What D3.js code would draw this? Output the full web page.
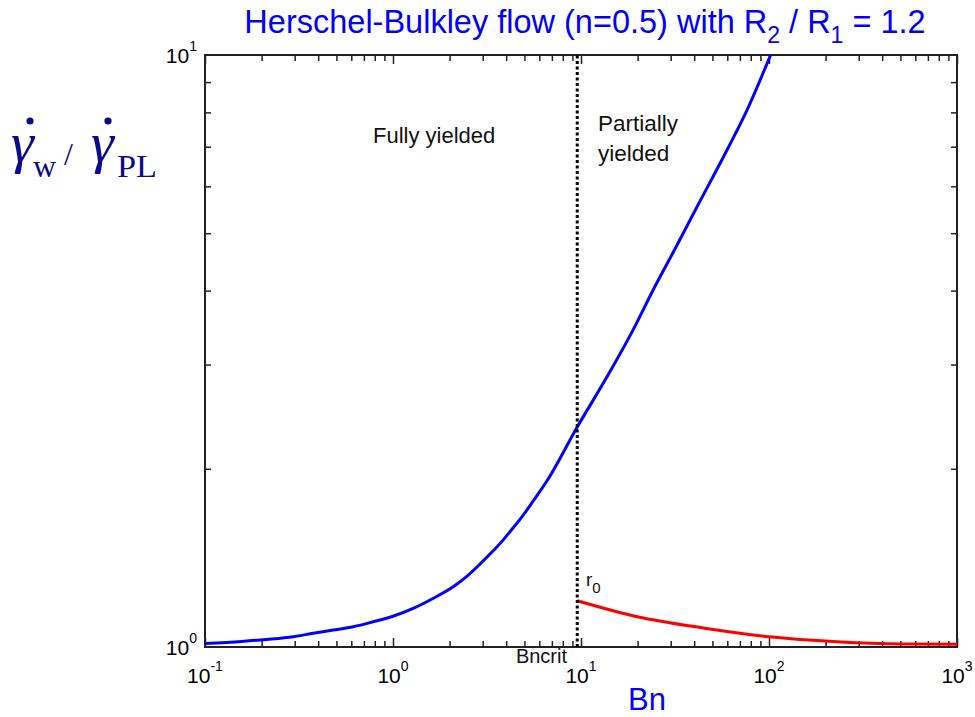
<!DOCTYPE html>
<html><head><meta charset="utf-8">
<script src="https://cdn.jsdelivr.net/npm/d3@7"></script>
<style>body{margin:0;background:#fff}svg{display:block}</style>
</head><body>
<svg id="c" width="975" height="717"></svg>
<script>
// ---- data ----
const bnCrit = 9.55;
const blueBn = [0.1, 0.157, 0.213, 0.295, 0.377, 0.481, 0.615, 0.785, 1.0, 1.28, 1.64, 2.09, 2.47, 2.9, 3.42, 3.86, 4.19, 4.93, 5.57, 6.57, 9.55, 13.75, 18.9, 24.2, 30.8, 41.4, 59.8, 76.4, 102];
const blueY  = [1.014, 1.022, 1.030, 1.041, 1.055, 1.068, 1.082, 1.103, 1.127, 1.162, 1.209, 1.264, 1.316, 1.38, 1.455, 1.517, 1.566, 1.67, 1.765, 1.905, 2.353, 2.86, 3.43, 4.01, 4.63, 5.54, 6.91, 8.07, 10.0];
const redBn  = [9.55, 19.9, 44.6, 100, 230, 516, 1000];
const redY   = [1.197, 1.125, 1.077, 1.041, 1.021, 1.012, 1.011];
const xDecades = [-1, 0, 1, 2, 3];
const yDecades = [0, 1];

const svg = d3.select("#c");
const L = 205, R = 957, T = 55, B = 647;
const x = d3.scaleLog().domain([0.1, 1000]).range([L, R]);
const y = d3.scaleLog().domain([1, 10]).range([B, T]);
const FONT = "Liberation Sans, Arial, sans-serif";

svg.append("clipPath").attr("id", "clip").append("rect")
  .attr("x", L).attr("y", T).attr("width", R - L).attr("height", B - T);

const xMajor = xDecades.map(e => Math.pow(10, e));
const xMinor = [];
for (let e = -1; e < 3; e++) for (let k = 2; k <= 9; k++) xMinor.push(k * Math.pow(10, e));
const yMinor = [2, 3, 4, 5, 6, 7, 8, 9];

function tickAxis(axis, tr) {
  const g = svg.append("g").attr("transform", tr).call(axis);
  g.select(".domain").remove();
  g.selectAll("text").remove();
  g.selectAll("line").attr("stroke", "#222").attr("stroke-width", 1.5);
  return g;
}
tickAxis(d3.axisBottom(x).tickValues(xMinor).tickSize(-6), `translate(0,${B})`);
tickAxis(d3.axisBottom(x).tickValues(xMajor).tickSize(-9), `translate(0,${B})`);
tickAxis(d3.axisTop(x).tickValues(xMinor).tickSize(-6), `translate(0,${T})`);
tickAxis(d3.axisTop(x).tickValues(xMajor).tickSize(-9), `translate(0,${T})`);
tickAxis(d3.axisLeft(y).tickValues(yMinor).tickSize(-6), `translate(${L},0)`);
tickAxis(d3.axisRight(y).tickValues(yMinor).tickSize(-6), `translate(${R},0)`);

svg.append("rect").attr("x", L).attr("y", T).attr("width", R - L).attr("height", B - T)
  .attr("fill", "none").attr("stroke", "#222").attr("stroke-width", 2);

xDecades.forEach(e => {
  const t = svg.append("text").attr("x", x(Math.pow(10, e))).attr("y", 683)
    .attr("text-anchor", "middle").attr("font-family", FONT).attr("font-size", 21).attr("fill", "#000");
  t.append("tspan").text("10");
  t.append("tspan").attr("dy", -12).attr("font-size", 14).text(String(e));
});
yDecades.forEach(e => {
  const t = svg.append("text").attr("x", 197).attr("y", y(Math.pow(10, e)) + 8)
    .attr("text-anchor", "end").attr("font-family", FONT).attr("font-size", 21).attr("fill", "#000");
  t.append("tspan").text("10");
  t.append("tspan").attr("dy", -12).attr("font-size", 14).text(String(e));
});

const line = d3.line().x(d => x(d[0])).y(d => y(d[1])).curve(d3.curveMonotoneX);
const plot = svg.append("g").attr("clip-path", "url(#clip)");
plot.append("path").datum(blueBn.map((b, i) => [b, blueY[i]]))
  .attr("d", line).attr("fill", "none").attr("stroke", "#0000FF").attr("stroke-width", 3);
plot.append("path").datum(redBn.map((b, i) => [b, redY[i]]))
  .attr("d", line).attr("fill", "none").attr("stroke", "#FF0000").attr("stroke-width", 3);

svg.append("line").attr("x1", x(bnCrit)).attr("x2", x(bnCrit)).attr("y1", B).attr("y2", T)
  .attr("stroke", "#000").attr("stroke-width", 3).attr("stroke-dasharray", "3,2.5");

function label(txt, px, py, size, anchor) {
  return svg.append("text").attr("x", px).attr("y", py).attr("font-family", FONT)
    .attr("font-size", size).attr("fill", "#111").attr("text-anchor", anchor || "start").text(txt);
}
label("Fully yielded", 373, 143, 22);
label("Partially", 598, 131, 22.5);
label("yielded", 598, 161, 22.5);
label("Bncrit", 567, 663, 20, "end");
const r0 = svg.append("text").attr("x", 586).attr("y", 586).attr("font-family", FONT)
  .attr("font-size", 19).attr("fill", "#111");
r0.append("tspan").text("r");
r0.append("tspan").attr("dy", 7).attr("font-size", 15).text("0");

svg.append("text").attr("x", 647).attr("y", 710).attr("text-anchor", "middle")
  .attr("font-family", FONT).attr("font-size", 31).attr("fill", "#0000FF").text("Bn");

const title = svg.append("text").attr("x", 585).attr("y", 33).attr("text-anchor", "middle")
  .attr("font-family", FONT).attr("font-size", 32.5).attr("fill", "#0000FF");
title.append("tspan").text("Herschel-Bulkley flow (n=0.5) with R");
title.append("tspan").attr("dy", 10).attr("font-size", 23).text("2");
title.append("tspan").attr("dy", -10).text(" / R");
title.append("tspan").attr("dy", 10).attr("font-size", 23).text("1");
title.append("tspan").attr("dy", -10).text(" = 1.2");

// y label (math)
const NAVY = "#0a0a8c";
const SERIF = "Liberation Serif, Times New Roman, serif";
const yl = svg.append("g");
function gam(px, dotX) {
  yl.append("text").attr("x", px).attr("y", 162).attr("font-family", SERIF).attr("font-style", "italic")
    .attr("font-size", 58).attr("fill", NAVY).text("γ");
  yl.append("circle").attr("cx", dotX).attr("cy", 121).attr("r", 3.6).attr("fill", NAVY);
}
gam(11, 30);
yl.append("text").attr("x", 33).attr("y", 177).attr("font-family", SERIF).attr("font-size", 32).attr("fill", NAVY).text("w");
yl.append("text").attr("x", 64).attr("y", 165).attr("font-family", SERIF).attr("font-size", 32).attr("fill", NAVY).text("/");
gam(91, 108);
yl.append("text").attr("x", 117).attr("y", 177).attr("font-family", SERIF).attr("font-size", 31)
  .attr("textLength", 40).attr("lengthAdjust", "spacingAndGlyphs").attr("fill", NAVY).text("PL");
</script>
</body></html>
